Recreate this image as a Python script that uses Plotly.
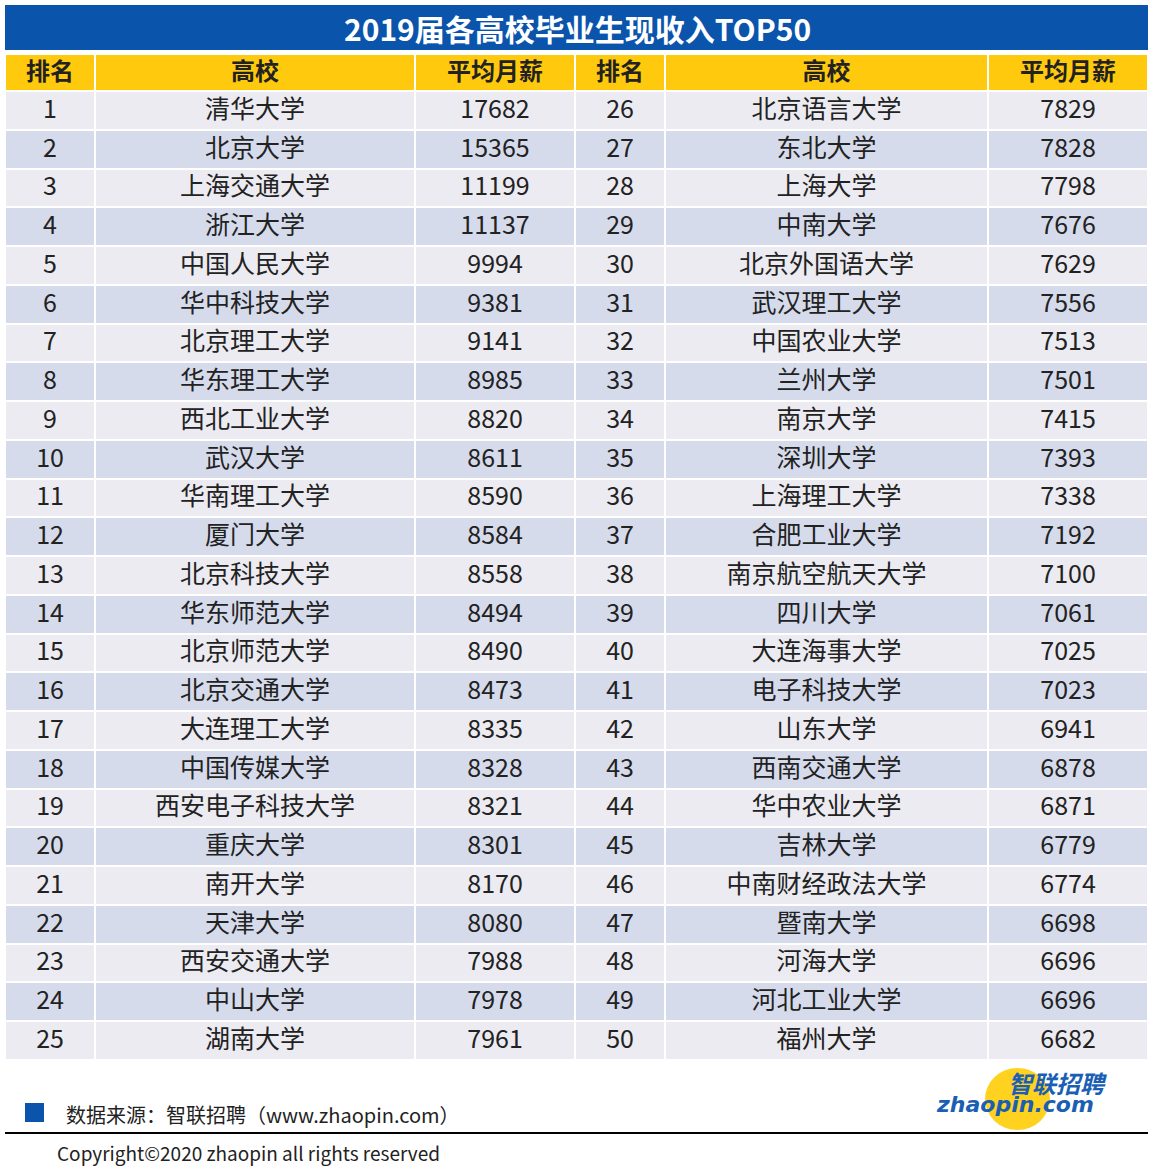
import plotly.graph_objects as go

rank_a = list(range(1, 26))
school_a = ["清华大学","北京大学","上海交通大学","浙江大学","中国人民大学","华中科技大学","北京理工大学","华东理工大学","西北工业大学","武汉大学","华南理工大学","厦门大学","北京科技大学","华东师范大学","北京师范大学","北京交通大学","大连理工大学","中国传媒大学","西安电子科技大学","重庆大学","南开大学","天津大学","西安交通大学","中山大学","湖南大学"]
pay_a = [17682,15365,11199,11137,9994,9381,9141,8985,8820,8611,8590,8584,8558,8494,8490,8473,8335,8328,8321,8301,8170,8080,7988,7978,7961]
rank_b = list(range(26, 51))
school_b = ["北京语言大学","东北大学","上海大学","中南大学","北京外国语大学","武汉理工大学","中国农业大学","兰州大学","南京大学","深圳大学","上海理工大学","合肥工业大学","南京航空航天大学","四川大学","大连海事大学","电子科技大学","山东大学","西南交通大学","华中农业大学","吉林大学","中南财经政法大学","暨南大学","河海大学","河北工业大学","福州大学"]
pay_b = [7829,7828,7798,7676,7629,7556,7513,7501,7415,7393,7338,7192,7100,7061,7025,7023,6941,6878,6871,6779,6774,6698,6696,6696,6682]
headers = ["排名","高校","平均月薪","排名","高校","平均月薪"]

W, H = 1154, 1174
FONT = "Noto Sans CJK SC"
row_fill = ["#ebebf1" if i % 2 == 0 else "#d6dbec" for i in range(25)]

def py(p):
    return 1 - p / H

fig = go.Figure(go.Table(
    domain=dict(x=[5/W, 1148/W], y=[0, py(54)]),
    columnwidth=[90, 320, 160, 90, 323, 160],
    header=dict(values=headers,
                fill_color="#ffc90e", line=dict(color="white", width=2),
                font=dict(family=FONT, size=24, color="#222", weight="bold"), height=37, align="center"),
    cells=dict(values=[rank_a, school_a, pay_a, rank_b, school_b, pay_b],
               fill_color=[row_fill]*6, line=dict(color="white", width=2),
               font=dict(family=FONT, size=25, color="#222"), height=38.75, align="center"),
))

shapes = [
    dict(type="rect", xref="paper", yref="paper", x0=5/W, x1=1148/W, y0=py(50), y1=py(5),
         fillcolor="#0a54ab", line=dict(width=0)),
    dict(type="rect", xref="paper", yref="paper", x0=25/W, x1=44/W, y0=py(1122), y1=py(1103),
         fillcolor="#0a54ab", line=dict(width=0)),
    dict(type="line", xref="paper", yref="paper", x0=5/W, x1=1148/W, y0=py(1133), y1=py(1133),
         line=dict(color="black", width=2)),
    dict(type="circle", xref="paper", yref="paper", x0=985/W, x1=1050/W, y0=py(1130), y1=py(1068),
         fillcolor="#ffd21f", line=dict(width=0), layer="below"),
]
annotations = [
    dict(text="<b>2019届各高校毕业生现收入TOP50</b>", x=0.5, y=py(28),
         font=dict(family=FONT, size=30, color="white")),
    dict(text="数据来源：智联招聘（www.zhaopin.com）", x=64/W, y=py(1114), xanchor="left",
         font=dict(family=FONT, size=20, color="#222")),
    dict(text="Copyright©2020 zhaopin all rights reserved", x=55/W, y=py(1152), xanchor="left",
         font=dict(family=FONT, size=19, color="#222")),
    dict(text="<b><i>智联招聘</i></b>", x=1057/W, y=py(1082),
         font=dict(family=FONT, size=24, color="#1a5fb4")),
    dict(text="<b><i>zhaopin.com</i></b>", x=1015/W, y=py(1104),
         font=dict(family="DejaVu Sans", size=22, color="#1a5fb4")),
]
for a in annotations:
    a.update(xref="paper", yref="paper", showarrow=False, yanchor="middle")
    a.setdefault("xanchor", "center")
fig.update_layout(width=W, height=H, margin=dict(l=0, r=0, t=0, b=0),
                  paper_bgcolor="white", shapes=shapes, annotations=annotations)
fig.write_html("out.html", config={"displayModeBar": False},
               post_script="document.body.style.margin='0';document.body.style.overflow='hidden';")
